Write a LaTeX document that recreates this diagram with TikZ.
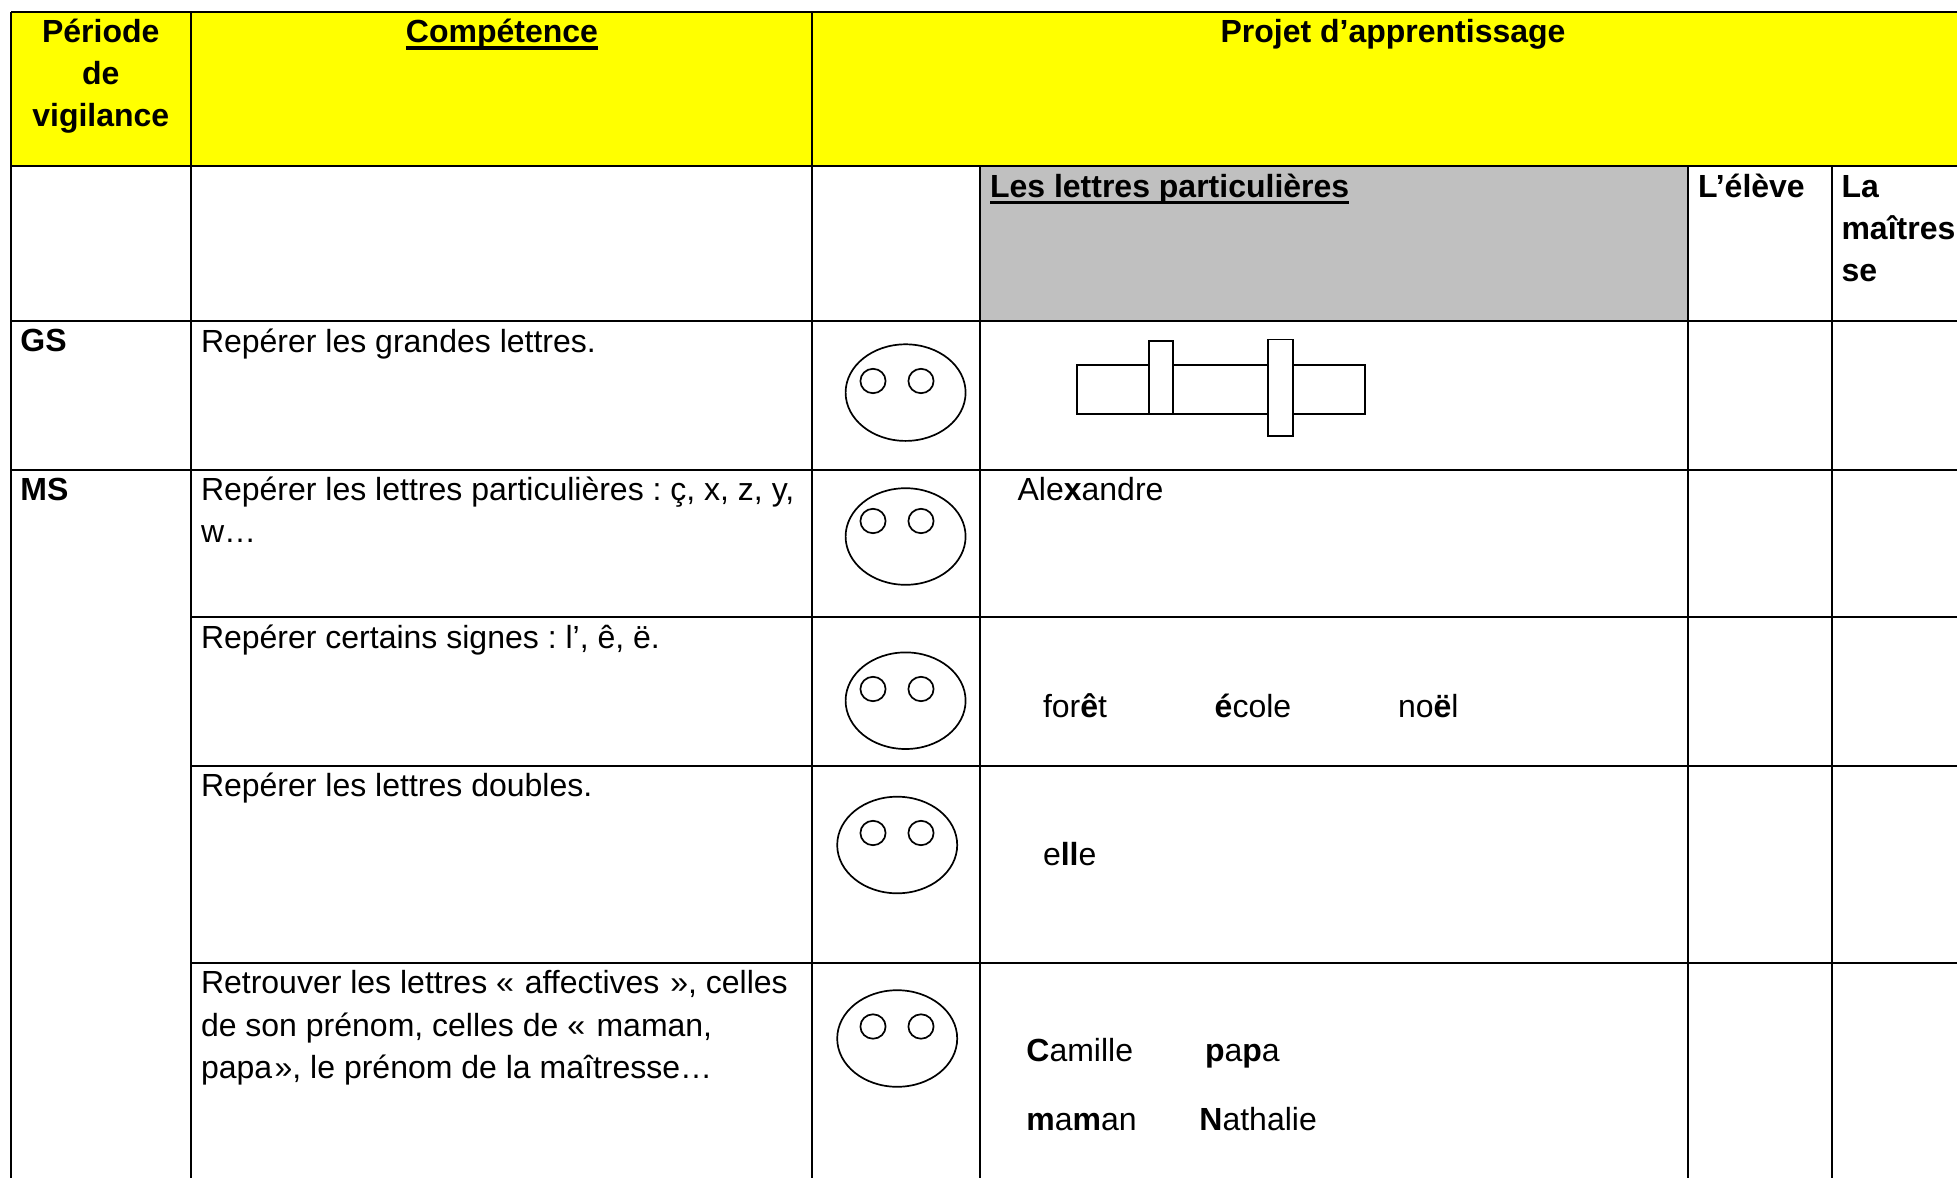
\documentclass[tikz,border=0pt]{standalone}
\usepackage{fontspec}
\setmainfont{Liberation Sans}
\definecolor{headyellow}{RGB}{255,255,0}
\definecolor{headgray}{RGB}{192,192,192}
\newcommand\thickul[1]{\setbox0=\hbox{#1}\rlap{\rule[-7.3pt]{\wd0}{3.3pt}}\box0}
\frenchspacing
\tikzset{
  grid line/.style={line width=2.4pt,black},
  cell/.style={anchor=base west,inner sep=0pt,outer sep=0pt,align=left,
    font=\fontsize{32}{42}\selectfont},
  widecell/.style={cell,font=\fontsize{32}{42.6}\selectfont},
  headcell/.style={cell,anchor=base,align=center,font=\fontsize{32}{42}\selectfont\bfseries},
  boldcell/.style={cell,font=\fontsize{32}{42}\selectfont\bfseries},
  outline/.style={line width=1.7pt,black},
}
\newcommand\facemark[3]{%
  \draw[outline] (#1,#2) ellipse [x radius=60,y radius=48.3];
  \draw[outline] (873,#3) ellipse [x radius=12.6,y radius=12.2];
  \draw[outline] (921,#3) ellipse [x radius=12.6,y radius=12.2];
}
\begin{document}
\begin{tikzpicture}[x=1pt,y=-1pt]
\useasboundingbox (0,0) rectangle (1957,1178);
\fill[white] (0,0) rectangle (1957,1178);
% fills
\fill[headyellow] (11,12) rectangle (1957,166);
\fill[headgray] (980,166) rectangle (1688,321);
% grid
\draw[grid line] (11,12) -- (1957,12);
\draw[grid line] (11,166) -- (1957,166);
\draw[grid line] (11,321) -- (1957,321);
\draw[grid line] (11,470) -- (1957,470);
\draw[grid line] (191,617) -- (1957,617);
\draw[grid line] (191,766) -- (1957,766);
\draw[grid line] (191,963) -- (1957,963);
\draw[grid line] (11,12) -- (11,1178);
\draw[grid line] (191,12) -- (191,1178);
\draw[grid line] (812,12) -- (812,1178);
\draw[grid line] (980,166) -- (980,1178);
\draw[grid line] (1688,166) -- (1688,1178);
\draw[grid line] (1832,166) -- (1832,1178);
% header
\node[headcell] (periode) at (100.8,126) {Période\\de\\vigilance};
\node[headcell] (competence) at (502,42.3) {\thickul{Compétence}};
\node[headcell] (projet) at (1393,42.3) {Projet d’apprentissage};
\node[boldcell] (lettres) at (990,197) {\thickul{Les lettres particulières}};
\node[boldcell] (eleve) at (1698,197) {L’élève};
\node[boldcell] (maitresse) at (1841.5,281) {La\\maîtres\\se};
% left column
\node[boldcell] (gs) at (20.4,351) {GS};
\node[boldcell] (ms) at (20.4,500) {MS};
% competences
\node[cell] (c1) at (201,352) {Repérer les grandes lettres.};
\node[cell] (c2) at (201,542.5) {Repérer les lettres particulières : ç, x, z, y,\\w…};
\node[cell] (c3) at (201,648) {Repérer certains signes : l’, ê, ë.};
\node[cell] (c4) at (201,796) {Repérer les lettres doubles.};
\node[widecell] (c5) at (201,1078.6) {Retrouver les lettres «\kern2pt{} affectives\kern2pt{} », celles\\de son prénom, celles de «\kern2.5pt{} maman,\\papa\kern2.5pt{}», le prénom de la maîtresse…};
% faces
\facemark{905.6}{392.6}{381}
\facemark{905.6}{536.5}{521}
\facemark{905.6}{700.7}{689}
\facemark{897.2}{845}{833}
\facemark{897.2}{1038.5}{1026.5}
% letters drawing
\draw[outline] (1077,365) rectangle (1365,413.7);
\draw[outline,fill=white] (1149,341) rectangle (1173,413.7);
\draw[outline,fill=white] (1268,339.5) rectangle (1293,436.3);
% examples
\node[cell] (alex) at (1017.6,500) {Ale\textbf{x}andre};
\node[cell] (foret) at (1043,717) {for\textbf{ê}t};
\node[cell] (ecole) at (1214.7,717) {\textbf{é}cole};
\node[cell] (noel) at (1398,717) {no\textbf{ë}l};
\node[cell] (elle) at (1043,865.5) {e\textbf{ll}e};
\node[cell] (camille) at (1026.4,1061.7) {\textbf{C}amille};
\node[cell] (papa) at (1205,1061.7) {\textbf{p}a\textbf{p}a};
\node[cell] (maman) at (1026.4,1130) {\textbf{m}a\textbf{m}an};
\node[cell] (nathalie) at (1199.4,1130) {\textbf{N}athalie};
\end{tikzpicture}
\end{document}
